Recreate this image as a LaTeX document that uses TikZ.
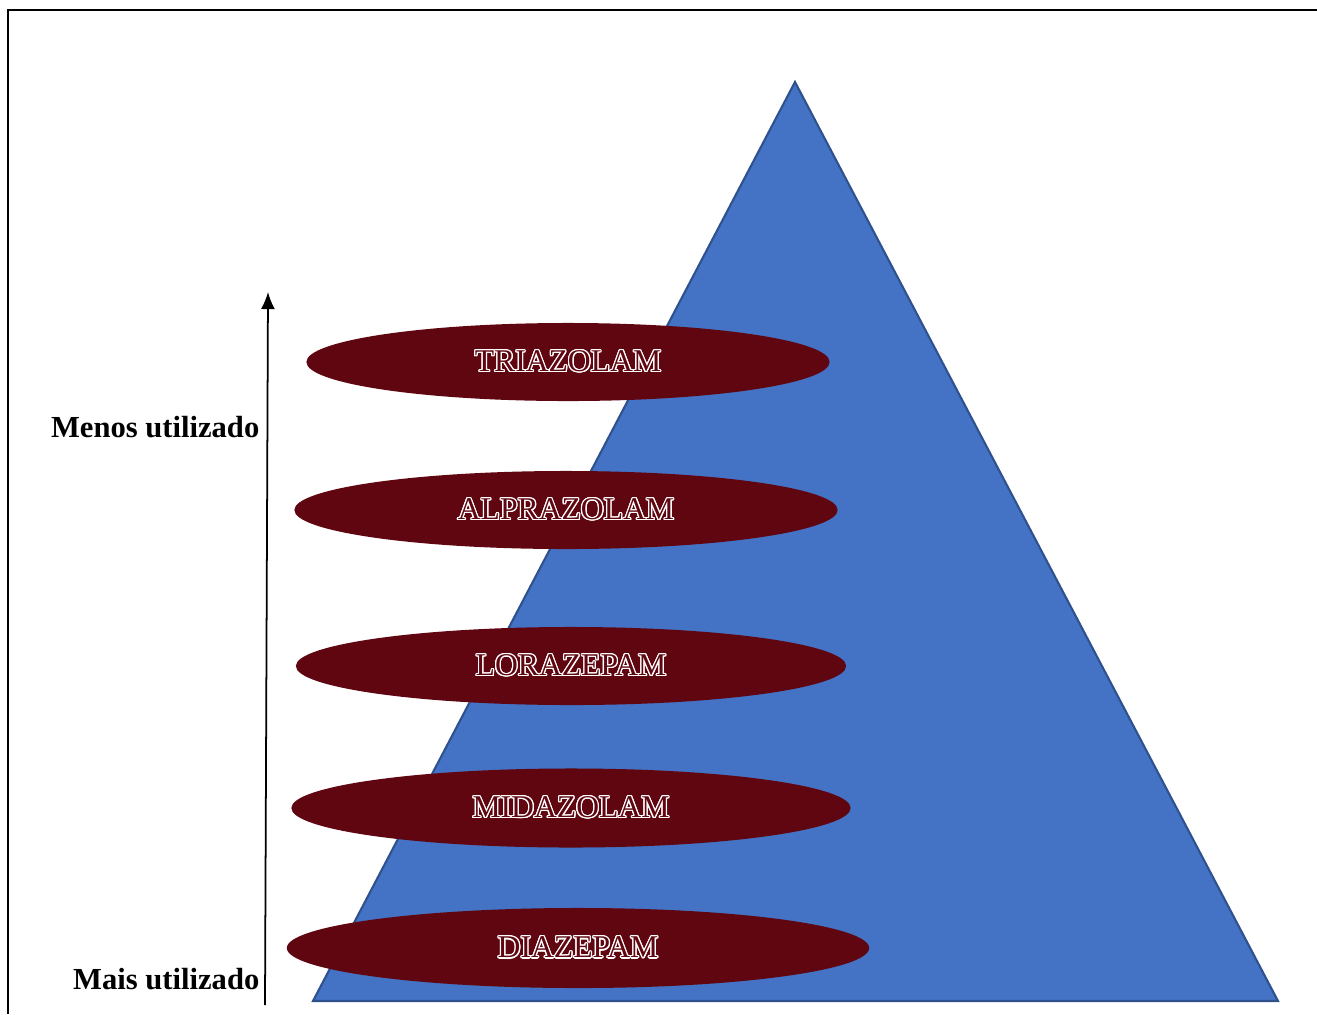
\documentclass[tikz,border=0pt]{standalone}
\usepackage{fontspec}
\setmainfont{Liberation Serif}
\usepackage{contour}
\usepackage{tikz}
\usetikzlibrary{positioning,shapes.geometric,arrows.meta}

\definecolor{azulpir}{HTML}{4472C4}
\definecolor{bordapir}{HTML}{2F528F}
\definecolor{vinho}{HTML}{600610}

\contourlength{0.35pt}
\newcommand{\rotulo}[1]{\raisebox{-0.6pt}{\contour{white}{#1}}}

\begin{document}
\begin{tikzpicture}[x=0.01cm, y=-0.01cm]
\tikzstyle{elipse} = [ellipse, fill=vinho, draw=none, minimum height=0.78cm, inner sep=0pt, text=vinho, font=\fontsize{9}{10}\selectfont]
\tikzstyle{legenda} = [anchor=east, inner sep=0pt, font=\fontsize{8.7}{10}\selectfont\bfseries]

\useasboundingbox (0,0) rectangle (1317,1014);

% moldura
\draw[line width=0.55pt] (8,1014) -- (8,10) -- (1317,10);

% piramide
\coordinate (P1) at (313,1001);
\coordinate (P2) at (795,82);
\coordinate (P3) at (1278,1001);
\draw[fill=azulpir, draw=bordapir, line width=0.6pt] (P1) -- (P2) -- (P3) -- cycle;

\node[elipse, minimum width=5.23cm] (E1) at (568,362) {\rotulo{TRIAZOLAM}};
\node[elipse, minimum width=5.43cm] (E2) at (566,510) {\rotulo{ALPRAZOLAM}};
\node[elipse, minimum width=5.50cm] (E3) at (571,666) {\rotulo{LORAZEPAM}};
\node[elipse, minimum width=5.59cm, minimum height=0.79cm] (E4) at (571,808) {\rotulo{MIDAZOLAM}};
\node[elipse, minimum width=5.82cm, minimum height=0.80cm] (E5) at (578,948) {\rotulo{DIAZEPAM}};

% seta
\coordinate (S1) at (265,1005);
\coordinate (S2) at (268,292);
\draw[-{Latex[length=0.17cm, width=0.14cm]}, line width=0.5pt] (S1) -- (S2);

\node[legenda] (menos) at (260,427) {Menos utilizado};
\node[legenda] (mais) at (260,979) {Mais utilizado};
\end{tikzpicture}
\end{document}
